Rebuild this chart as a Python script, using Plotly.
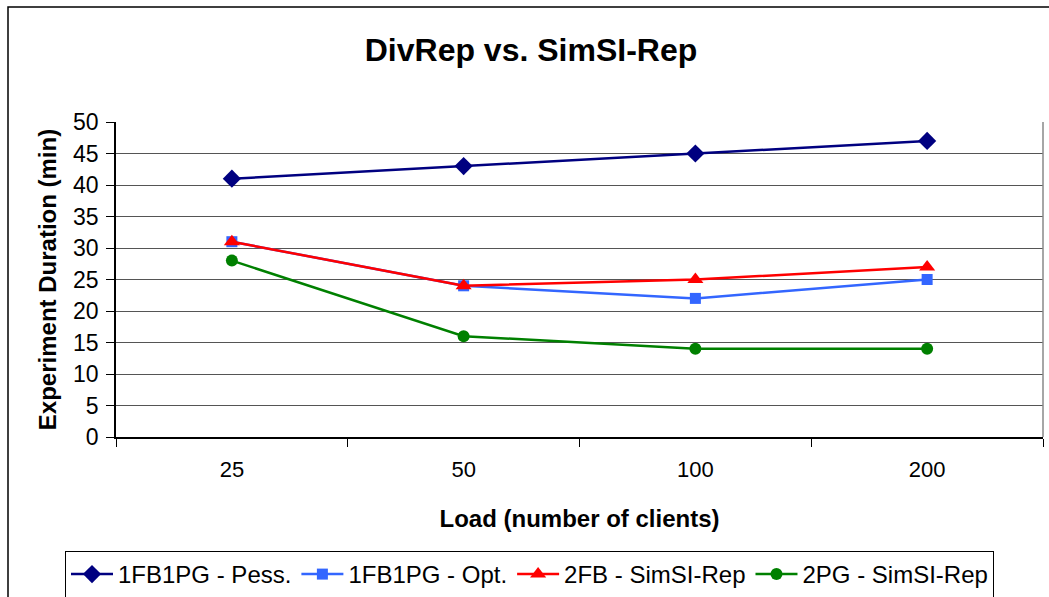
import plotly.graph_objects as go

# Load levels (number of clients) and measured experiment durations (minutes)
loads = ["25", "50", "100", "200"]
pess_1fb1pg = [41, 43, 45, 47]
opt_1fb1pg = [31, 24, 22, 25]
simsi_2fb = [31, 24, 25, 27]
simsi_2pg = [28, 16, 14, 14]

series_names = ["1FB1PG - Pess.", "1FB1PG - Opt.", "2FB - SimSI-Rep", "2PG - SimSI-Rep"]
y_ticks = list(range(0, 55, 5))

W, H = 1049, 597
L, R, T, B = 116, 6, 122, 160
plot_w = W - L - R
plot_h = H - T - B

FONT = "Liberation Sans, Arial, sans-serif"

fig = go.Figure()

styles = [
    (pess_1fb1pg, "#000080", "diamond", 14),
    (opt_1fb1pg, "#3366FF", "square", 11),
    (simsi_2fb, "#FF0000", "triangle-up", 14),
    (simsi_2pg, "#008000", "circle", 12),
]
for name, (vals, color, sym, size) in zip(series_names, styles):
    fig.add_trace(go.Scatter(
        x=loads, y=vals, name=name, mode="lines+markers",
        line=dict(color=color, width=2.5),
        marker=dict(symbol=sym, size=size, color=color, line=dict(width=0)),
    ))

# outer chart frame (right and bottom edges fall outside the page)
fig.add_shape(type="rect", xref="paper", yref="paper",
              x0=(8 - L) / plot_w, x1=(W + 20 - L) / plot_w,
              y0=(H - B - (H + 20)) / plot_h, y1=(H - B - 7) / plot_h,
              line=dict(color="black", width=1.5), layer="below")
# right edge of plot area
fig.add_shape(type="line", xref="paper", yref="paper", x0=1, x1=1, y0=0, y1=1,
              line=dict(color="#888888", width=1.5))

fig.update_layout(
    width=W, height=H,
    margin=dict(l=L, r=R, t=T, b=B, autoexpand=False),
    paper_bgcolor="white", plot_bgcolor="white",
    font=dict(family=FONT, color="black"),
    title=dict(text="<b>DivRep vs. SimSI-Rep</b>", x=531 / W, xanchor="center",
               y=1 - 50 / H, yanchor="middle", font=dict(size=32, family=FONT)),
    showlegend=True,
    legend=dict(orientation="h", x=(529.5 - L) / plot_w, xanchor="center",
                y=(H - B - 551) / plot_h, yanchor="top",
                bordercolor="black", borderwidth=1, bgcolor="white",
                font=dict(size=24, family=FONT), itemwidth=42,
                tracegroupgap=0),
    xaxis=dict(
        type="category", range=[-0.5, 3.5],
        tickson="boundaries", ticks="outside", ticklen=8, tickcolor="black",
        showline=True, linecolor="black", linewidth=1.5,
        showgrid=False, zeroline=False,
        tickfont=dict(size=22, family=FONT), ticklabelstandoff=12,
        title=dict(text="<b>Load (number of clients)</b>", font=dict(size=24, family=FONT),
                   standoff=29),
    ),
    yaxis=dict(
        range=[0, 50], tickvals=y_ticks, ticks="outside", ticklen=8, tickcolor="black",
        showline=True, linecolor="black", linewidth=1.5,
        showgrid=True, gridcolor="#555555", gridwidth=1, zeroline=False,
        tickfont=dict(size=23, family=FONT), ticklabelstandoff=3,
        title=dict(text="<b>Experiment Duration (min)</b>", font=dict(size=24, family=FONT),
                   standoff=10),
    ),
)

fig.write_html("out.html")
